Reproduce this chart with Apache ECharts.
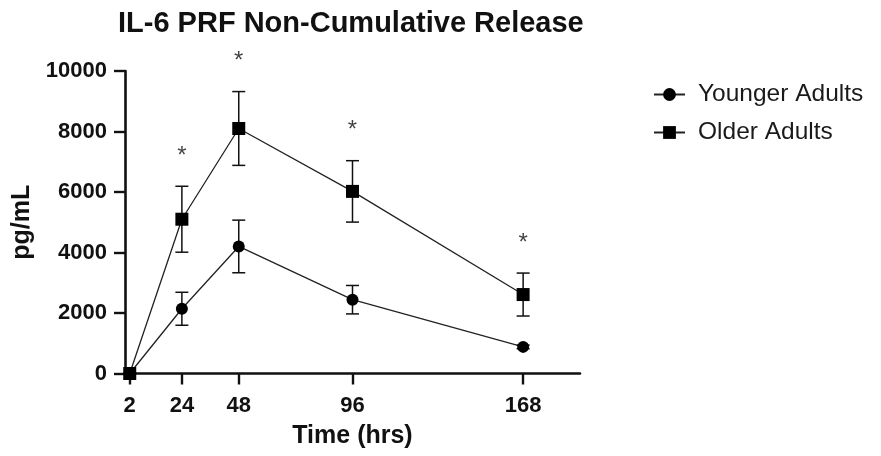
<!DOCTYPE html>
<html><head><meta charset="utf-8">
<script src="https://cdn.jsdelivr.net/npm/echarts@6/dist/echarts.min.js"></script>
<style>html,body{margin:0;padding:0;background:#fff}#c{width:881px;height:456px}</style>
</head><body><div id="c"></div>
<script>
const timesHrs = [2, 24, 48, 96, 168];
const xTickLabels = [2, 24, 48, 96, 168];
const yTicks = [0, 2000, 4000, 6000, 8000, 10000];
const youngerMean = [0, 2140, 4200, 2440, 880];
const youngerErr = [0, 545, 870, 470, 60];
const olderMean = [0, 5100, 8100, 6020, 2610];
const olderErr = [0, 1090, 1220, 1015, 710];
const significance = ['', '*', '*', '*', '*'];

const FONT = 'Liberation Sans, Arial, sans-serif';

function pts(means) { return timesHrs.map((t, i) => [t, means[i]]); }
function errData(means, errs) { return timesHrs.map((t, i) => [t, means[i] - errs[i], means[i] + errs[i]]); }

function errRender(params, api) {
  const x = api.value(0);
  const lo = api.coord([x, api.value(1)]);
  const hi = api.coord([x, api.value(2)]);
  const w = 6.5;
  const style = { stroke: '#111', lineWidth: 1.5, fill: null };
  return {
    type: 'group',
    children: [
      { type: 'line', shape: { x1: hi[0], y1: hi[1], x2: lo[0], y2: lo[1] }, style },
      { type: 'line', shape: { x1: hi[0] - w, y1: hi[1], x2: hi[0] + w, y2: hi[1] }, style },
      { type: 'line', shape: { x1: lo[0] - w, y1: lo[1], x2: lo[0] + w, y2: lo[1] }, style }
    ]
  };
}

const starData = timesHrs.map((t, i) => ({ value: [t, olderMean[i] + olderErr[i]], mark: significance[i] })).filter(d => d.mark);

const chart = echarts.init(document.getElementById('c'), null, { renderer: 'canvas' });
chart.setOption({
  animation: false,
  backgroundColor: '#fff',
  title: {
    text: 'IL-6 PRF Non-Cumulative Release',
    left: 113, top: 4,
    textStyle: { fontFamily: FONT, fontWeight: 'bold', fontSize: 29, color: '#111' }
  },
  legend: {
    orient: 'vertical',
    left: 648, top: 77,
    itemWidth: 31, itemHeight: 16, itemGap: 13,
    lineStyle: { width: 2 },
    textStyle: { fontFamily: FONT, fontSize: 24.5, color: '#1a1a1a', padding: [0, 0, 0, 8] },
    data: ['Younger Adults', 'Older Adults']
  },
  grid: { left: 125, right: 301, top: 71, bottom: 82.5, outerBoundsMode: 'none', containLabel: false },
  xAxis: {
    type: 'value', min: 0, max: 192,
    name: 'Time (hrs)', nameLocation: 'middle', nameGap: 50,
    nameTextStyle: { fontFamily: FONT, fontWeight: 'bold', fontSize: 25, color: '#111' },
    axisLine: { onZero: false, lineStyle: { color: '#111', width: 2.6 } },
    axisTick: { customValues: xTickLabels, length: 11, lineStyle: { color: '#111', width: 2.4 } },
    axisLabel: { customValues: xTickLabels, margin: 21, fontFamily: FONT, fontWeight: 'bold', fontSize: 22, color: '#111' },
    splitLine: { show: false }
  },
  yAxis: {
    type: 'value', min: 0, max: 10000, interval: 2000,
    name: 'pg/mL', nameLocation: 'middle', nameGap: 88,
    nameTextStyle: { fontFamily: FONT, fontWeight: 'bold', fontSize: 25, color: '#111' },
    axisLine: { show: true, lineStyle: { color: '#111', width: 2.6 } },
    axisTick: { show: true, length: 11, lineStyle: { color: '#111', width: 2.4 } },
    axisLabel: { customValues: yTicks, margin: 18, formatter: v => String(v), fontFamily: FONT, fontWeight: 'bold', fontSize: 22, color: '#111' },
    splitLine: { show: false }
  },
  series: [
    {
      name: 'Younger Adults', type: 'line', data: pts(youngerMean),
      symbol: 'circle', symbolSize: 12, z: 3,
      lineStyle: { color: '#222', width: 1.3 },
      itemStyle: { color: '#000', borderWidth: 0 }
    },
    {
      name: 'Older Adults', type: 'line', data: pts(olderMean),
      symbol: 'rect', symbolSize: 13, z: 4,
      lineStyle: { color: '#222', width: 1.3 },
      itemStyle: { color: '#000', borderWidth: 0 }
    },
    { type: 'custom', renderItem: errRender, data: errData(youngerMean, youngerErr), z: 2, silent: true },
    { type: 'custom', renderItem: errRender, data: errData(olderMean, olderErr), z: 2, silent: true },
    {
      type: 'scatter', data: starData, symbolSize: 0, silent: true, z: 5,
      label: {
        show: true, position: 'top', distance: 18,
        formatter: p => p.data.mark,
        fontFamily: FONT, fontSize: 24, color: '#111', lineHeight: 24
      }
    }
  ]
});
</script></body></html>
